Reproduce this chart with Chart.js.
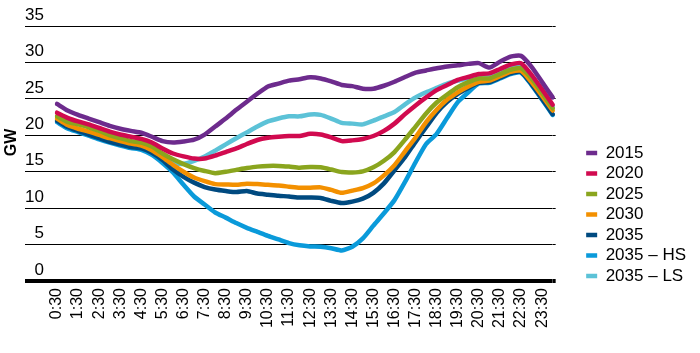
<!DOCTYPE html>
<html>
<head>
<meta charset="utf-8">
<script src="https://cdn.jsdelivr.net/npm/chart.js@4.4.1/dist/chart.umd.min.js"></script>
<style>
html, body { margin: 0; padding: 0; background: #fff; }
#wrap { width: 700px; height: 353px; position: relative; }
</style>
</head>
<body>
<div id="wrap"><canvas id="grafico"></canvas></div>
<script>
// half-hour periods
var times = ['0:30','1:00','1:30','2:00','2:30','3:00','3:30','4:00','4:30','5:00','5:30','6:00',
             '6:30','7:00','7:30','8:00','8:30','9:00','9:30','10:00','10:30','11:00','11:30','12:00',
             '12:30','13:00','13:30','14:00','14:30','15:00','15:30','16:00','16:30','17:00','17:30','18:00',
             '18:30','19:00','19:30','20:00','20:30','21:00','21:30','22:00','22:30','23:00','23:30','24:00']

var seriesNames = ['2015', '2020', '2025', '2030', '2035', '2035 – HS', '2035 – LS']
var seriesColors = ['#6d2b8d', '#d10a4f', '#8aa51e', '#f39000', '#004a80', '#0a9ada', '#5cc2d7']

var gw2015 = [24.3, 23.4, 22.8, 22.3, 21.8, 21.3, 20.9, 20.6, 20.35, 19.8, 19.2, 19.0,
              19.15, 19.4, 20.1, 21.2, 22.3, 23.5, 24.6, 25.7, 26.7, 27.1, 27.5, 27.7,
              27.95, 27.8, 27.4, 26.9, 26.75, 26.4, 26.4, 26.8, 27.35, 28.0, 28.6, 28.9,
              29.2, 29.45, 29.6, 29.8, 29.9, 29.3, 30.1, 30.8, 30.9, 29.4, 27.3, 25.2]
var gw2020 = [23.1, 22.4, 21.9, 21.5, 21.0, 20.5, 20.1, 19.8, 19.5, 19.0, 18.2, 17.5,
              17.1, 16.8, 16.8, 17.2, 17.7, 18.2, 18.8, 19.35, 19.65, 19.8, 19.9, 19.9,
              20.2, 20.1, 19.7, 19.2, 19.3, 19.5, 19.9, 20.6, 21.6, 22.9, 24.1, 25.2,
              26.2, 26.9, 27.6, 28.0, 28.4, 28.5, 29.1, 29.7, 29.9, 28.3, 26.3, 24.2]
var gw2025 = [22.6, 21.85, 21.5, 21.1, 20.6, 20.0, 19.6, 19.2, 19.0, 18.45, 17.5, 16.7,
              16.05, 15.5, 15.1, 14.8, 15.0, 15.25, 15.5, 15.7, 15.8, 15.8, 15.7, 15.55,
              15.65, 15.6, 15.3, 14.95, 14.9, 15.05, 15.6, 16.5, 17.7, 19.4, 21.2, 23.0,
              24.5, 25.6, 26.6, 27.3, 27.8, 27.8, 28.4, 29.0, 29.2, 27.8, 25.8, 23.7]
var gw2030 = [22.3, 21.4, 20.9, 20.5, 20.05, 19.6, 19.2, 18.85, 18.6, 17.95, 17.0, 15.95,
              15.0, 14.2, 13.7, 13.3, 13.25, 13.2, 13.35, 13.3, 13.2, 13.1, 12.95, 12.8,
              12.8, 12.85, 12.5, 12.1, 12.4, 12.75, 13.4, 14.5, 15.9, 17.8, 19.7, 21.8,
              23.5, 24.9, 25.9, 26.7, 27.35, 27.5, 28.1, 28.7, 28.85, 27.3, 25.4, 23.4]
var gw2035 = [22.0, 21.15, 20.6, 20.1, 19.6, 19.1, 18.75, 18.4, 18.2, 17.6, 16.6, 15.3,
              14.3, 13.5, 12.9, 12.55, 12.35, 12.2, 12.35, 12.0, 11.85, 11.7, 11.6, 11.45,
              11.45, 11.4, 11.0, 10.7, 10.9, 11.3, 12.1, 13.4, 15.2, 17.0, 19.1, 21.1,
              23.1, 24.6, 25.7, 26.5, 27.2, 27.3, 27.9, 28.5, 28.7, 27.0, 25.0, 22.9]
var gw2035HS = [21.8, 20.95, 20.45, 19.95, 19.45, 19.0, 18.6, 18.25, 18.0, 17.3, 16.2, 14.9,
                13.2, 11.6, 10.5, 9.4, 8.7, 7.95, 7.3, 6.75, 6.2, 5.7, 5.2, 4.9,
                4.75, 4.7, 4.5, 4.2, 4.7, 5.85, 7.6, 9.3, 11.1, 13.6, 16.3, 18.8,
                20.2, 22.4, 24.55, 25.9, 27.1, 27.2, 27.8, 28.4, 28.6, 26.9, 24.9, 22.8]
var gw2035LS = [22.1, 21.25, 20.75, 20.3, 19.8, 19.35, 18.95, 18.6, 18.4, 17.75, 16.9, 16.2,
                16.1, 16.5, 17.1, 17.9, 18.75, 19.6, 20.4, 21.2, 21.9, 22.3, 22.6, 22.6,
                22.85, 22.8, 22.3, 21.7, 21.6, 21.5, 22.0, 22.6, 23.2, 24.25, 25.2, 25.9,
                26.5, 27.1, 27.5, 27.8, 28.1, 28.2, 28.8, 29.3, 29.5, 28.0, 26.0, 23.9]

var yTicks = [0, 5, 10, 15, 20, 25, 30, 35]

Chart.defaults.font.family = '"Liberation Sans", Arial, Helvetica, sans-serif'
Chart.defaults.color = '#000'

var valores = [gw2015, gw2020, gw2025, gw2030, gw2035, gw2035HS, gw2035LS]

var datasets = seriesNames.map(function(nome, i){
    return {
        label: nome,
        data: valores[i],
        borderColor: seriesColors[i],
        backgroundColor: seriesColors[i],
        borderWidth: 4.5,
        borderCapStyle: 'round',
        borderJoinStyle: 'round',
        pointRadius: 0,
        tension: 0.2,
        yAxisID: 'y'
    }
})

function gridWidth(c){
    return c.tick && c.tick.value === 0 ? 4 : 1
}

new Chart(document.getElementById('grafico'), {
    type: 'line',
    data: { labels: times, datasets: datasets },
    options: {
        responsive: true,
        maintainAspectRatio: false,
        animation: false,
        layout: { padding: { top: 26, right: 4, bottom: 0, left: 0 } },
        plugins: {
            tooltip: { enabled: false },
            legend: {
                position: 'right',
                align: 'start',
                title: { display: true, text: ' ', font: { size: 10 }, padding: { top: 103, bottom: 0 } },
                labels: {
                    usePointStyle: true,
                    pointStyle: 'line',
                    pointStyleWidth: 11,
                    padding: 3.5,
                    color: '#000',
                    font: { size: 17 }
                }
            }
        },
        scales: {
            x: {
                grid: { display: false, drawTicks: false },
                border: { display: false },
                ticks: {
                    autoSkip: false,
                    maxRotation: 90,
                    minRotation: 90,
                    padding: 7,
                    font: { size: 16 },
                    callback: function(val, idx){
                        return idx % 2 === 0 ? this.getLabelForValue(val) : ''
                    }
                },
                afterFit: function(s){ s.height = 72 }
            },
            y: {
                min: 0,
                max: 35,
                afterBuildTicks: function(s){ s.ticks = yTicks.map(function(v){ return { value: v } }) },
                border: { display: false },
                grid: { color: '#000', lineWidth: gridWidth, drawTicks: true, tickLength: 32 },
                ticks: { padding: -19, labelOffset: -11, font: { size: 17 } },
                title: { display: true, text: '     GW', font: { size: 16, weight: 'bold' }, padding: 2 },
                afterFit: function(s){ s.width = 57 }
            },
            y2: {
                position: 'right',
                min: 0,
                max: 35,
                afterBuildTicks: function(s){ s.ticks = yTicks.map(function(v){ return { value: v } }) },
                border: { display: false },
                grid: { color: '#000', lineWidth: gridWidth, drawOnChartArea: false, drawTicks: true, tickLength: 3 },
                ticks: { display: false },
                afterFit: function(s){ s.width = 30 }
            }
        }
    }
})
</script>
</body>
</html>
